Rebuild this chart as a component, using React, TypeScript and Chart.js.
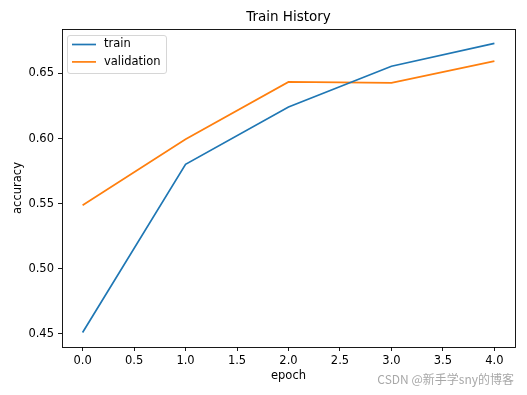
import React, { useEffect, useRef } from "react";
import { Chart, registerables } from "chart.js";

Chart.register(...registerables);

const epochs = [0, 1, 2, 3, 4];
const trainAcc = [0.4508, 0.5802, 0.6243, 0.6556, 0.6731];
const valAcc = [0.5487, 0.5995, 0.6435, 0.6428, 0.6595];
const xTicks = [0, 0.5, 1, 1.5, 2, 2.5, 3, 3.5, 4];
const yTicks = [0.45, 0.5, 0.55, 0.6, 0.65];
const seriesNames = ["train", "validation"];
const colors = ["#1f77b4", "#ff7f0e"];
const titleText = "Train History";
const xLabel = "epoch";
const yLabel = "accuracy";
const watermark = "CSDN @新手学sny的博客";

const FONT = "'DejaVu Sans', sans-serif";

export default function App() {
  const ref = useRef<HTMLCanvasElement | null>(null);

  useEffect(() => {
    if (!ref.current) return;
    const ymin = Math.min(...trainAcc, ...valAcc);
    const ymax = Math.max(...trainAcc, ...valAcc);
    const ypad = (ymax - ymin) * 0.05;
    const xpad = (epochs[epochs.length - 1] - epochs[0]) * 0.05;

    const decor = {
      id: "decor",
      afterDraw(chart: any) {
        const { ctx, chartArea: a } = chart;
        ctx.save();
        // frame
        ctx.strokeStyle = "#000";
        ctx.lineWidth = 0.9;
        ctx.strokeRect(a.left + 0.5, a.top + 0.5, a.right - a.left, a.bottom - a.top);
        // title
        ctx.fillStyle = "#000";
        ctx.textAlign = "center";
        ctx.textBaseline = "middle";
        ctx.font = `13.5px ${FONT}`;
        ctx.fillText(titleText, (a.left + a.right) / 2, 17);
        // axis labels
        ctx.font = `11.5px ${FONT}`;
        ctx.fillText(xLabel, (a.left + a.right) / 2, 376);
        ctx.save();
        ctx.translate(18, (a.top + a.bottom) / 2);
        ctx.rotate(-Math.PI / 2);
        ctx.fillText(yLabel, 0, 0);
        ctx.restore();
        // legend
        const lx = a.left + 5, ly = a.top + 6, lw = 99, lh = 38;
        ctx.beginPath();
        (ctx as any).roundRect(lx + 0.5, ly + 0.5, lw, lh, 2.5);
        ctx.fillStyle = "rgba(255,255,255,0.8)";
        ctx.fill();
        ctx.strokeStyle = "#d6d6d6";
        ctx.lineWidth = 1;
        ctx.stroke();
        ctx.textAlign = "left";
        ctx.font = `11.5px ${FONT}`;
        seriesNames.forEach((name, i) => {
          const y = ly + 9.5 + i * 17.4;
          ctx.strokeStyle = colors[i];
          ctx.lineWidth = 1.7;
          ctx.beginPath();
          ctx.moveTo(lx + 5, y);
          ctx.lineTo(lx + 29, y);
          ctx.stroke();
          ctx.fillStyle = "#000";
          ctx.fillText(name, lx + 37, y);
        });
        // watermark
        ctx.textAlign = "right";
        ctx.fillStyle = "#a8a8a8";
        ctx.font = `12px 'Noto Sans CJK SC', ${FONT}`;
        ctx.fillText(watermark, 514, 379);
        ctx.restore();
      },
    };

    const chart = new Chart(ref.current, {
      type: "line",
      data: {
        datasets: [
          {
            label: seriesNames[0],
            data: epochs.map((x, i) => ({ x, y: trainAcc[i] })),
            borderColor: colors[0],
            borderWidth: 1.7,
            pointRadius: 0,
            tension: 0,
            fill: false,
          },
          {
            label: seriesNames[1],
            data: epochs.map((x, i) => ({ x, y: valAcc[i] })),
            borderColor: colors[1],
            borderWidth: 1.7,
            pointRadius: 0,
            tension: 0,
            fill: false,
          },
        ],
      },
      options: {
        responsive: false,
        animation: false,
        layout: { padding: { left: 0, top: 29, right: 12, bottom: 0 } },
        plugins: {
          legend: { display: false },
          title: { display: false },
          tooltip: { enabled: false },
        },
        scales: {
          x: {
            type: "linear",
            min: epochs[0] - xpad,
            max: epochs[epochs.length - 1] + xpad,
            afterBuildTicks: (s: any) => {
              s.ticks = xTicks.map((v) => ({ value: v }));
            },
            afterFit: (s: any) => {
              s.height = 48;
            },
            grid: {
              drawOnChartArea: false,
              drawTicks: true,
              tickLength: 4,
              color: "#000",
              lineWidth: 0.9,
            },
            border: { display: false },
            ticks: {
              autoSkip: false,
              maxRotation: 0,
              padding: 3,
              color: "#000",
              font: { family: FONT, size: 11.5 },
              callback: (v: any) => Number(v).toFixed(1),
            },
          },
          y: {
            type: "linear",
            min: ymin - ypad,
            max: ymax + ypad,
            afterBuildTicks: (s: any) => {
              s.ticks = yTicks.map((v) => ({ value: v }));
            },
            afterFit: (s: any) => {
              s.width = 62;
            },
            grid: {
              drawOnChartArea: false,
              drawTicks: true,
              tickLength: 4,
              color: "#000",
              lineWidth: 0.9,
            },
            border: { display: false },
            ticks: {
              autoSkip: false,
              padding: 4,
              color: "#000",
              font: { family: FONT, size: 11.5 },
              callback: (v: any) => Number(v).toFixed(2),
            },
          },
        },
      },
      plugins: [decor],
    } as any);
    return () => chart.destroy();
  }, []);

  return (
    <div style={{ position: "fixed", left: 0, top: 0, width: 527, height: 395, background: "#fff" }}>
      <canvas ref={ref} width={527} height={395} style={{ display: "block" }} />
    </div>
  );
}
